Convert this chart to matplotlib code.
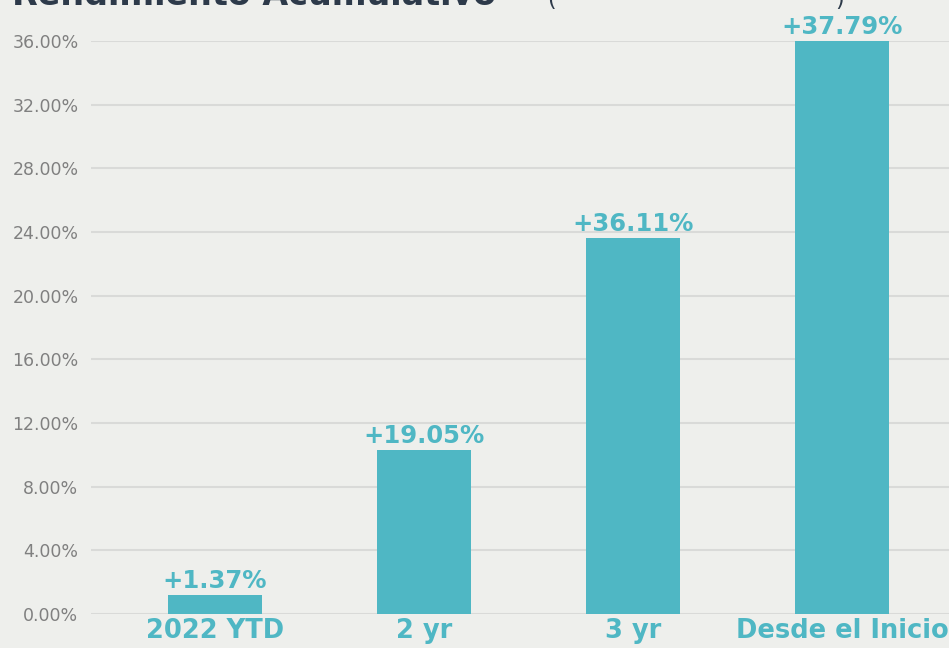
import matplotlib
matplotlib.use("Agg")
import matplotlib.pyplot as plt
from matplotlib.ticker import FuncFormatter

categories = ["2022 YTD", "2 yr", "3 yr", "Desde el Inicio"]
bar_heights = [1.2, 10.3, 23.6, 36.0]
value_labels = ["+1.37%", "+19.05%", "+36.11%", "+37.79%"]
y_ticks = [0, 4, 8, 12, 16, 20, 24, 28, 32, 36]

teal = "#4fb7c4"
bg = "#eeefec"
label_font = "DejaVu Sans"

fig = plt.figure(figsize=(9.49, 6.48), dpi=100, facecolor=bg)
W, H = 949, 648
ax = fig.add_axes([91 / W, 34 / H, (949 - 91) / W, (614 - 41) / H], facecolor=bg)

x = list(range(len(categories)))
ax.bar(x, bar_heights, width=0.45, color=teal, zorder=2)

for xi, h, lab in zip(x, bar_heights, value_labels):
    ax.annotate(lab, (xi, h), xytext=(0, 1.5), textcoords="offset points",
                ha="center", va="bottom", fontsize=17.5, fontweight="bold",
                color=teal, family=label_font, clip_on=False, zorder=3)

ax.set_xlim(-0.593, 3.512)
ax.set_ylim(0, 36)
ax.set_yticks(y_ticks)
ax.yaxis.set_major_formatter(FuncFormatter(lambda v, p: f"{v:.2f}%"))
ax.set_xticks(x)
ax.set_xticklabels(categories, fontsize=18.5, fontweight="bold", color=teal, family=label_font)

ax.grid(axis="y", color="#d9dad8", linewidth=1.5, zorder=0)
ax.tick_params(axis="both", length=0)
ax.tick_params(axis="y", labelsize=12.5, labelcolor="#808080", pad=9)
ax.tick_params(axis="x", pad=3)
for lab in ax.get_yticklabels():
    lab.set_family("DejaVu Sans")
for s in ax.spines.values():
    s.set_visible(False)

fig.text(12 / W, 1 - 5 / H, "Rendimiento Acumulativo", fontsize=24, fontweight="bold",
         color="#2d3a4a", family=label_font, va="baseline", ha="left")
fig.text(547 / W, 1 - 6 / H, "(", fontsize=16, color="#2d3a4a", va="baseline")
fig.text(835 / W, 1 - 6 / H, ")", fontsize=16, color="#2d3a4a", va="baseline")

fig.savefig("out.png", dpi=100, facecolor=bg)
